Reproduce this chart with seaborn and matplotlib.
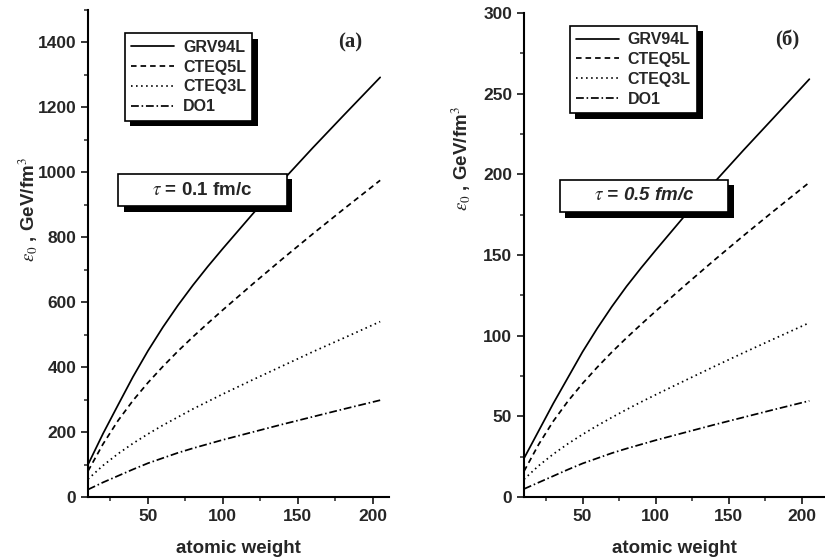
import matplotlib
matplotlib.use('Agg')

import pandas as pd
import seaborn as sns

from matplotlib import pyplot
from matplotlib import patheffects
from matplotlib.lines import Line2D
from matplotlib.ticker import MultipleLocator


# values
atomic_weight = [10, 20, 30, 40, 50, 60, 70, 80, 90, 100, 120, 140, 160, 180, 205]
models = ['GRV94L', 'CTEQ5L', 'CTEQ3L', 'DO1']

# panel (a): tau = 0.1 fm/c
grv_a = [100, 195, 283, 370, 450, 523, 590, 652, 710, 765, 872, 975, 1075, 1172, 1292]
cteq5_a = [80, 163, 235, 297, 352, 402, 449, 493, 535, 576, 656, 734, 810, 884, 975]
cteq3_a = [55, 97, 133, 165, 194, 221, 246, 271, 294, 317, 361, 404, 447, 488, 540]
do1_a = [23, 45, 65, 85, 104, 120, 136, 150, 163, 176, 200, 224, 247, 270, 298]

# panel (b): tau = 0.5 fm/c
grv_b = [24, 41, 58, 74, 90, 104.5, 118, 130.5, 142, 153, 174.5, 195, 215, 234.5, 259]
cteq5_b = [16, 32.6, 47, 59.4, 70.4, 80.4, 89.8, 98.6, 107, 115.2, 131.2, 146.8, 162, 176.8, 195]
cteq3_b = [11, 19.4, 26.6, 33, 38.8, 44.2, 49.3, 54.2, 58.9, 63.4, 72.2, 80.9, 89.4, 97.7, 108]
do1_b = [5, 9, 13, 17, 20.8, 24, 27.2, 30, 32.6, 35.2, 40, 44.8, 49.4, 54, 59.6]

DASHES = {'GRV94L': '', 'CTEQ5L': (3.2, 2.3), 'CTEQ3L': (0.9, 2.0), 'DO1': (4.5, 1.6, 0.9, 1.6)}
LW = 1.25


def long_form(curves):
    frames = []
    for name, values in zip(models, curves):
        frames.append(pd.DataFrame({'A': atomic_weight, 'eps': values, 'model': name}))
    return pd.concat(frames, ignore_index=True)


def shadow(offset=(4, -4)):
    return [patheffects.SimplePatchShadow(offset=offset, shadow_rgbFace='black', alpha=1),
            patheffects.Normal()]


def draw(ax, curves, xmax, ymax, ymajor, tau_text, tau_style, tau_pos,
         panel, panel_pos, legend_anchor, ylabel_pos):
    df = long_form(curves)
    sns.lineplot(data=df, x='A', y='eps', style='model', style_order=models,
                 dashes=DASHES, color='black', linewidth=LW, legend=False, ax=ax)

    ax.set_xlim(10, xmax)
    ax.set_ylim(0, ymax)
    ax.xaxis.set_major_locator(MultipleLocator(50))
    ax.xaxis.set_minor_locator(MultipleLocator(25))
    ax.yaxis.set_major_locator(MultipleLocator(ymajor))
    ax.yaxis.set_minor_locator(MultipleLocator(ymajor / 2))
    ax.tick_params(which='major', direction='out', length=5, width=1.3, labelsize=12.5)
    ax.tick_params(which='minor', direction='out', length=3, width=1.1)
    for label in ax.get_xticklabels() + ax.get_yticklabels():
        label.set_fontweight('bold')

    sns.despine(ax=ax)
    for side in ['left', 'bottom']:
        ax.spines[side].set_linewidth(1.5)
        ax.spines[side].set_color('black')

    ax.set_xlabel('atomic weight', fontsize=13.5, fontweight='bold', labelpad=12)
    ax.set_ylabel(r'$\varepsilon_0$ , GeV/fm$^{3}$', fontsize=13.5, fontweight='bold')
    ax.yaxis.set_label_coords(*ylabel_pos)

    handles = []
    for name in models:
        if DASHES[name] == '':
            handles.append(Line2D([], [], color='black', lw=LW, linestyle='-'))
        else:
            handles.append(Line2D([], [], color='black', lw=LW, linestyle=(0, DASHES[name])))
    leg = ax.legend(handles, models, loc='upper left', bbox_to_anchor=legend_anchor,
                    prop={'weight': 'bold', 'size': 11.5}, handlelength=2.7,
                    labelspacing=0.3, borderpad=0.4, handletextpad=0.55,
                    fancybox=False, framealpha=1, edgecolor='black')
    leg.get_frame().set_linewidth(1.2)
    leg.get_frame().set_path_effects(shadow())

    txt = ax.text(tau_pos[0], tau_pos[1], '     ' + r'$\tau$' + tau_text, transform=ax.transAxes,
                  ha='center', va='center', fontsize=13.5, fontweight='bold', style=tau_style,
                  bbox=dict(boxstyle='square,pad=0.42', facecolor='white',
                            edgecolor='black', linewidth=1.2))
    txt.get_bbox_patch().set_path_effects(shadow())

    ax.text(panel_pos[0], panel_pos[1], panel, transform=ax.transAxes,
            ha='center', va='center', fontsize=15, fontweight='bold',
            family='Liberation Serif')


if __name__ == '__main__':
    sns.set_style('ticks')
    pyplot.rcParams['font.family'] = ['Liberation Sans', 'DejaVu Sans']
    pyplot.rcParams['mathtext.fontset'] = 'stix'

    fig = pyplot.figure(figsize=(8.25, 5.6), dpi=100, facecolor='white')
    ax_a = fig.add_axes([0.1067, 0.1125, 0.365, 0.870])
    ax_b = fig.add_axes([0.6352, 0.1125, 0.3636, 0.8643])

    draw(ax_a, [grv_a, cteq5_a, cteq3_a, do1_a], xmax=211, ymax=1500, ymajor=200,
         tau_text=' = 0.1 fm/c      ', tau_style='normal', tau_pos=(0.38, 0.63),
         panel='(a)', panel_pos=(0.87, 0.932), legend_anchor=(0.095, 0.968),
         ylabel_pos=(-0.16, 0.59))

    draw(ax_b, [grv_b, cteq5_b, cteq3_b, do1_b], xmax=215, ymax=300, ymajor=50,
         tau_text=' = 0.5 fm/c      ', tau_style='italic', tau_pos=(0.40, 0.622),
         panel='(б)', panel_pos=(0.877, 0.944), legend_anchor=(0.125, 0.99),
         ylabel_pos=(-0.17, 0.70))

    fig.savefig('out.png', dpi=100, facecolor='white')
